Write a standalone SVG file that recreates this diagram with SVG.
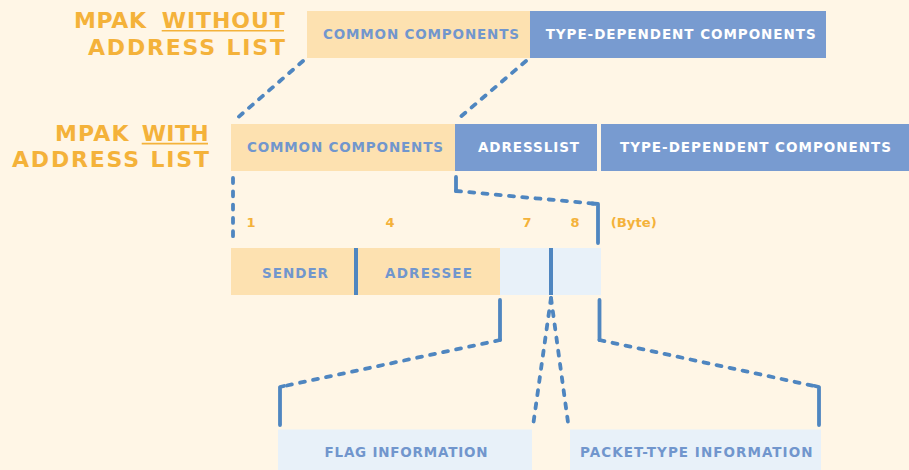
<svg xmlns="http://www.w3.org/2000/svg" width="909" height="470" viewBox="0 0 909 470">
  <style>
    .title { font-family: "DejaVu Sans", "Liberation Sans", sans-serif; font-weight: bold; font-size: 22px; fill: #f4b23a; }
    .lbl { font-family: "DejaVu Sans", "Liberation Sans", sans-serif; font-weight: bold; font-size: 13.5px; }
    .lp { fill: #7196cd; }
    .lw { fill: #ffffff; }
    .num { font-family: "DejaVu Sans", "Liberation Sans", sans-serif; font-weight: bold; font-size: 13px; fill: #f4b23a; }
    .peach { fill: #fde1b0; }
    .blue { fill: #789bd0; }
    .light { fill: #e8f1f9; }
    .bar { fill: #4f86c0; }
    .solid { fill: none; stroke: #4f86c0; stroke-width: 3.8; stroke-linecap: round; stroke-linejoin: round; }
    .dash { fill: none; stroke: #4f86c0; stroke-width: 3.8; stroke-linecap: round; stroke-dasharray: 5 8.3; }
    .ul { stroke: #f4b23a; stroke-width: 1.6; }
  </style>
  <rect width="909" height="470" fill="#fff6e6"/>

  <g id="title-without">
    <text class="title" x="74" y="28.3" textLength="72" lengthAdjust="spacing">MPAK</text>
    <text class="title" x="161.7" y="28.3" textLength="123" lengthAdjust="spacing">WITHOUT</text>
    <line class="ul" x1="161.7" y1="30.8" x2="284" y2="30.8"/>
    <text class="title" x="88" y="55" textLength="197" lengthAdjust="spacing">ADDRESS LIST</text>
  </g>
  <g id="title-with">
    <text class="title" x="55" y="141" textLength="73.5" lengthAdjust="spacing">MPAK</text>
    <text class="title" x="141.7" y="141" textLength="67" lengthAdjust="spacing">WITH</text>
    <line class="ul" x1="141.7" y1="143.6" x2="208" y2="143.6"/>
    <text class="title" x="12" y="166.7" textLength="197" lengthAdjust="spacing">ADDRESS LIST</text>
  </g>

  <g id="row1-common">
    <rect class="peach" x="307" y="11" width="223" height="47"/>
    <text class="lbl lp" x="323" y="39.3" textLength="196" lengthAdjust="spacing">COMMON COMPONENTS</text>
  </g>
  <g id="row1-type">
    <rect class="blue" x="530" y="11" width="296" height="47"/>
    <text class="lbl lw" x="545.7" y="39.3" textLength="270" lengthAdjust="spacing">TYPE-DEPENDENT COMPONENTS</text>
  </g>

  <g id="row2-common">
    <rect class="peach" x="231" y="124" width="224" height="47"/>
    <text class="lbl lp" x="247" y="152.3" textLength="196" lengthAdjust="spacing">COMMON COMPONENTS</text>
  </g>
  <g id="row2-adresslist">
    <rect class="blue" x="455" y="124" width="142" height="47"/>
    <text class="lbl lw" x="478" y="152.3" textLength="101" lengthAdjust="spacing">ADRESSLIST</text>
  </g>
  <g id="row2-type">
    <rect class="blue" x="601" y="124" width="308" height="47"/>
    <text class="lbl lw" x="620" y="152.3" textLength="271" lengthAdjust="spacing">TYPE-DEPENDENT COMPONENTS</text>
  </g>

  <g id="byte-labels">
    <text class="num" x="246.5" y="227.3">1</text>
    <text class="num" x="385.5" y="227.3">4</text>
    <text class="num" x="522.5" y="227.3">7</text>
    <text class="num" x="570.5" y="227.3">8</text>
    <text class="num" x="610.7" y="227.3" textLength="46" lengthAdjust="spacingAndGlyphs">(Byte)</text>
  </g>

  <g id="row4-sender">
    <rect class="peach" x="231" y="248" width="123" height="47"/>
    <text class="lbl lp" x="262" y="278" textLength="66" lengthAdjust="spacing">SENDER</text>
  </g>
  <g id="row4-adressee">
    <rect class="peach" x="358" y="248" width="142" height="47"/>
    <text class="lbl lp" x="385" y="278" textLength="87" lengthAdjust="spacing">ADRESSEE</text>
  </g>
  <g id="row4-flagbyte">
    <rect class="light" x="500" y="248" width="49" height="47"/>
  </g>
  <g id="row4-typebyte">
    <rect class="light" x="553" y="248" width="48" height="47"/>
  </g>
  <rect class="bar" x="354" y="248" width="4" height="47"/>
  <rect class="bar" x="549" y="248" width="4" height="47"/>

  <g id="flag-information">
    <rect class="light" x="278" y="429.5" width="254" height="41"/>
    <text class="lbl lp" x="324.5" y="456.7" textLength="163" lengthAdjust="spacing">FLAG INFORMATION</text>
  </g>
  <g id="packet-type-information">
    <rect class="light" x="570" y="429.5" width="251" height="41"/>
    <text class="lbl lp" x="580" y="456.7" textLength="232.5" lengthAdjust="spacing">PACKET-TYPE INFORMATION</text>
  </g>

  <g id="connectors">
    <path class="dash" d="M303,61 L235,120"/>
    <path class="dash" d="M526,61 L458,119"/>
    <path class="dash" d="M233,178 V239"/>
    <path class="solid" d="M456,177 V191"/>
    <path class="dash" d="M456,191 L598,204"/>
    <path class="solid" d="M592,203.5 L598,204 V243"/>
    <path class="solid" d="M500,300 V340"/>
    <path class="dash" d="M500,340 L280,387"/>
    <path class="solid" d="M280,425 V387 L284,386"/>
    <path class="solid" d="M599.5,300 V340"/>
    <path class="dash" d="M599.5,340 L819,387"/>
    <path class="solid" d="M815,386 L819,387 V425"/>
    <path class="dash" d="M551,298 L533,426"/>
    <path class="dash" d="M551,298 L568.5,426"/>
  </g>
</svg>
